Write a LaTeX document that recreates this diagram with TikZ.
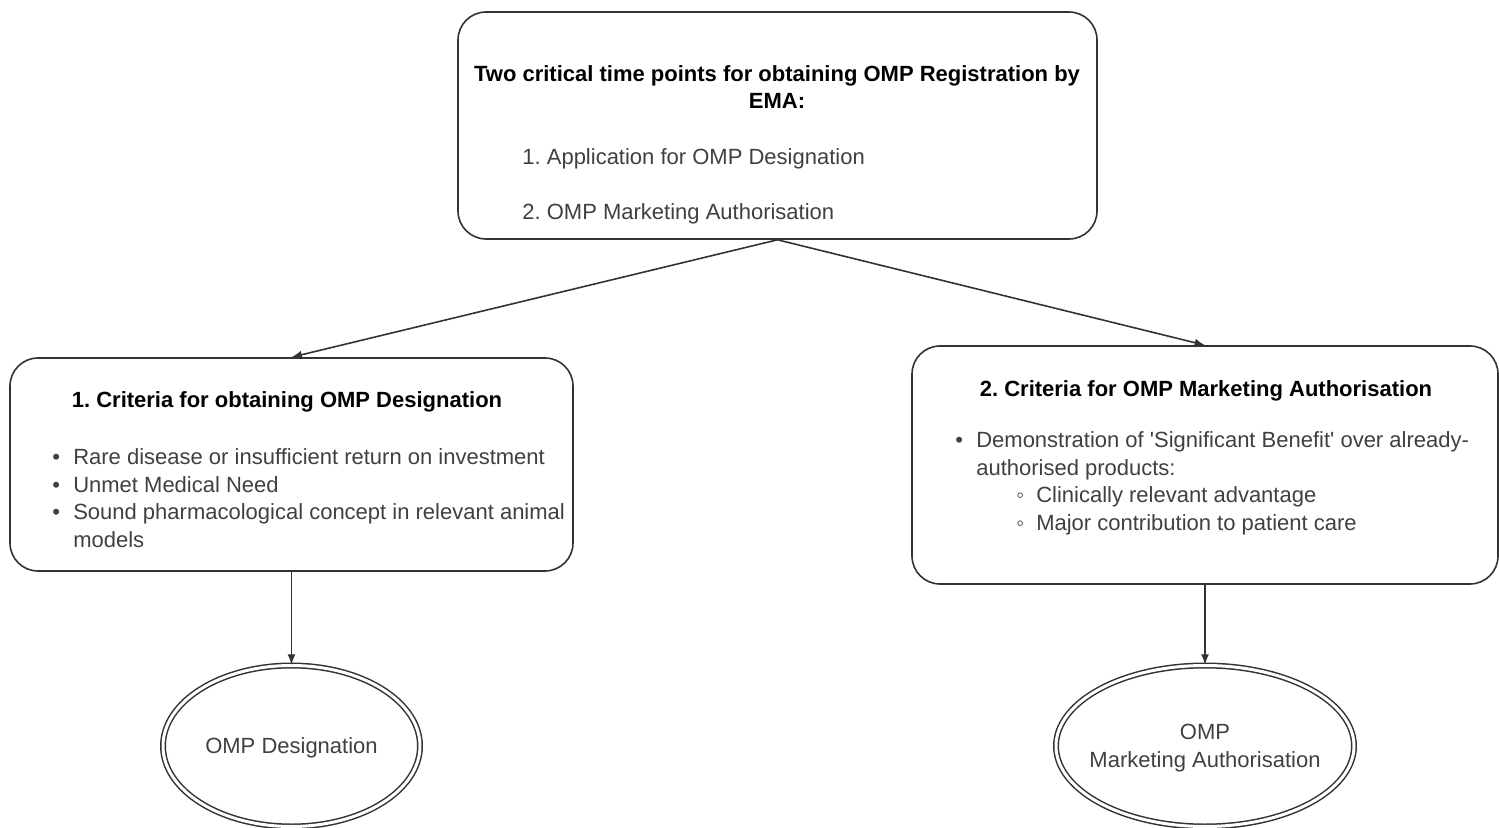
\documentclass[tikz,border=0pt]{standalone}
\usepackage{fontspec}
\setmainfont{Liberation Sans}
\usetikzlibrary{shapes.geometric}
\frenchspacing

\definecolor{linegray}{HTML}{333333}
\definecolor{textgray}{HTML}{404040}
\newcommand{\bodyfont}{\fontsize{11}{13.75}\selectfont}

\tikzstyle{rbox}=[rectangle,
                  rounded corners=14pt,
                  draw=linegray,
                  line width=0.8pt,
                  fill=white,
                  inner sep=0pt]
\tikzstyle{goal}=[ellipse,
                  draw=linegray,
                  line width=0.75pt,
                  double=white,
                  double distance=1.5pt,
                  inner sep=0pt]
\tikzstyle{head}=[inner sep=0pt,
                  align=center,
                  font=\bodyfont\bfseries]
\tikzstyle{txt}=[inner sep=0pt,
                 align=left,
                 text=textgray,
                 font=\bodyfont]
\tikzstyle{flow}=[draw=linegray,
                  line width=0.8pt]

\begin{document}
\begin{tikzpicture}[>=latex, x=0.5pt, y=-0.5pt]
  \useasboundingbox (0,0) rectangle (1499,828);

  % the three boxes and the two end points
  \node (top) [rbox, minimum width=319.5pt, minimum height=113.5pt] at (777.5,125.5) {};
  \node (crit1) [rbox, minimum width=281.5pt, minimum height=106.5pt] at (291.5,464.5) {};
  \node (crit2) [rbox, minimum width=293pt, minimum height=119pt] at (1205,465) {};
  \node (goal1) [goal, minimum width=128.5pt, minimum height=80.5pt] at (291.5,746) {};
  \node (goal2) [goal, minimum width=149pt, minimum height=80.5pt] at (1205,746) {};
  \node (goal1txt) [txt, align=center] at (291.5,748) {OMP Designation};
  \node (goal2txt) [txt, align=center] at (1205,748) {OMP\\Marketing Authorisation};

  % texts inside the boxes
  \node (toptitle) [head] at (777,87) {Two critical time points for obtaining OMP Registration by\\EMA:};
  \node (toplist) [txt, anchor=north west] at (522,148) {1. Application for OMP Designation\\[13.75pt]2. OMP Marketing Authorisation};

  \node (crit1title) [head] at (287,402) {1. Criteria for obtaining OMP Designation};
  \node (crit1list) [txt, anchor=north west] at (52,445) {%
    \begin{tabular}{@{}l@{\hspace{6.6pt}}l@{}}
      \textbullet & Rare disease or insufficient return on investment\\
      \textbullet & Unmet Medical Need\\
      \textbullet & Sound pharmacological concept in relevant animal\\
                  & models
    \end{tabular}};

  \node (crit2title) [head] at (1206,391) {2. Criteria for OMP Marketing Authorisation};
  \node (crit2list) [txt, anchor=north west] at (955,428) {%
    \begin{tabular}{@{}l@{\hspace{6.6pt}}l@{}}
      \textbullet & Demonstration of \textquotesingle Significant Benefit\textquotesingle{} over already-\\
                  & authorised products:\\
                  & \hspace{20pt}\makebox[10pt][l]{◦}Clinically relevant advantage\\
                  & \hspace{20pt}\makebox[10pt][l]{◦}Major contribution to patient care
    \end{tabular}};

  % The boxes are now connected through arrows:
  \path[->]
      (top.south) edge[flow] (crit1.north)
      (top.south) edge[flow] (crit2.north)
      (crit1.south) edge[flow] (goal1.north)
      (crit2.south) edge[flow] (goal2.north)
;

\end{tikzpicture}
\end{document}
